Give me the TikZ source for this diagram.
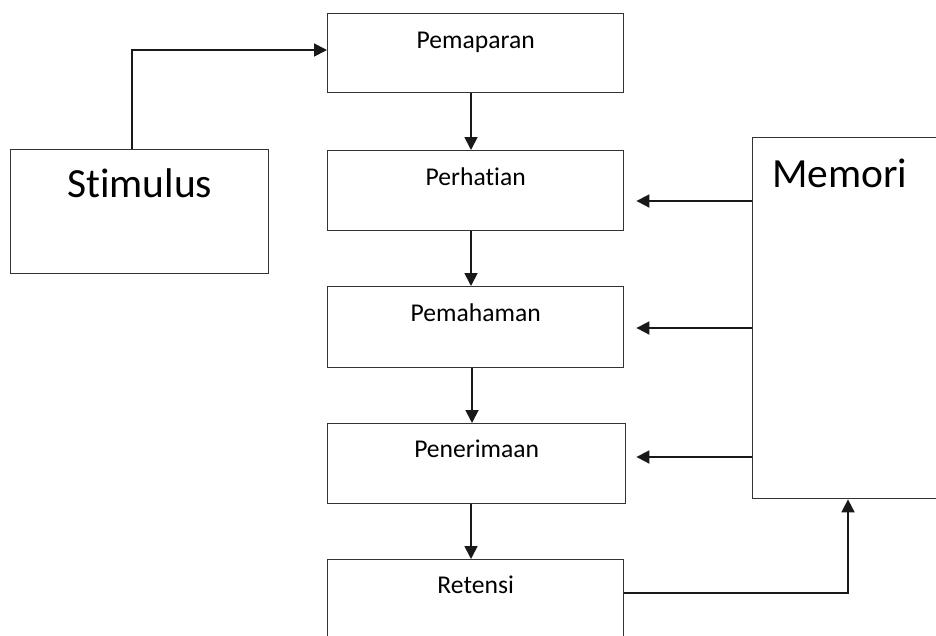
\documentclass[tikz,border=0pt]{standalone}
\usepackage{fontspec}
\setmainfont[Ligatures={NoCommon}]{Carlito}
\usetikzlibrary{arrows.meta,calc}
\begin{document}
\begin{tikzpicture}[x=1pt,y=-1pt,
 box/.style={draw=black!80, line width=1.4pt, anchor=north west, inner sep=0pt, minimum width=296pt},
 small/.style={font=\fontsize{25.6}{30}\selectfont, anchor=base, inner sep=0pt},
 big/.style={font=\fontsize{41.5}{48}\selectfont, inner sep=0pt},
 conn/.style={draw=black!90, line width=1.8pt, -{Triangle[length=13pt,width=13pt]}}]
\useasboundingbox (0,0) rectangle (936,635);
\clip (0,0) rectangle (936,635);
\fill[white] (0,0) rectangle (936,635);
% boxes
\node[box, minimum width=258pt, minimum height=124pt] (stim) at (10,149) {};
\node[box, minimum height=79pt] (pem) at (327,13) {};
\node[box, minimum height=80pt] (perh) at (327,150) {};
\node[box, minimum height=81pt] (pmh) at (327,286) {};
\node[box, minimum width=298pt, minimum height=80pt] (pnr) at (327,423) {};
\node[box, minimum height=90pt] (ret) at (327,559) {};
\node[box, minimum width=200pt, minimum height=361pt] (mem) at (752,137) {};
% texts
\node[big, anchor=base] (tstim) at ($(stim.north)+(0,48)$) {Stimulus};
\node[big, anchor=base west] (tmem) at ($(mem.north west)+(20,50)$) {Memori};
\node[small] (tpem) at ($(pem.north)+(0,35)$) {Pemaparan};
\node[small] (tperh) at ($(perh.north)+(0,35)$) {Perhatian};
\node[small] (tpmh) at ($(pmh.north)+(0,35)$) {Pemahaman};
\node[small] (tpnr) at ($(pnr.north)+(0,34)$) {Penerimaan};
\node[small] (tret) at ($(ret.north)+(0,34)$) {Retensi};
% connectors
\draw[conn] ($(stim.north west)+(122,0)$) |- ($(pem.north west)+(0,37)$);
\draw[conn] ($(pem.south west)+(144,0)$) -- ($(perh.north west)+(144,0)$);
\draw[conn] ($(perh.south west)+(144,0)$) -- ($(pmh.north west)+(144,0)$);
\draw[conn] ($(pmh.south west)+(145,0)$) -- ($(pnr.north west)+(145,0)$);
\draw[conn] ($(pnr.south west)+(144,0)$) -- ($(ret.north west)+(144,0)$);
\draw[conn] ($(mem.north west)+(0,64)$) -- ($(perh.north east)+(12,51)$);
\draw[conn] ($(mem.north west)+(0,191)$) -- ($(pmh.north east)+(12,42)$);
\draw[conn] ($(mem.north west)+(0,320)$) -- ($(pnr.north east)+(10,34)$);
\draw[conn] ($(ret.north east)+(0,34)$) -| ($(mem.south west)+(96,0)$);
\end{tikzpicture}
\end{document}
